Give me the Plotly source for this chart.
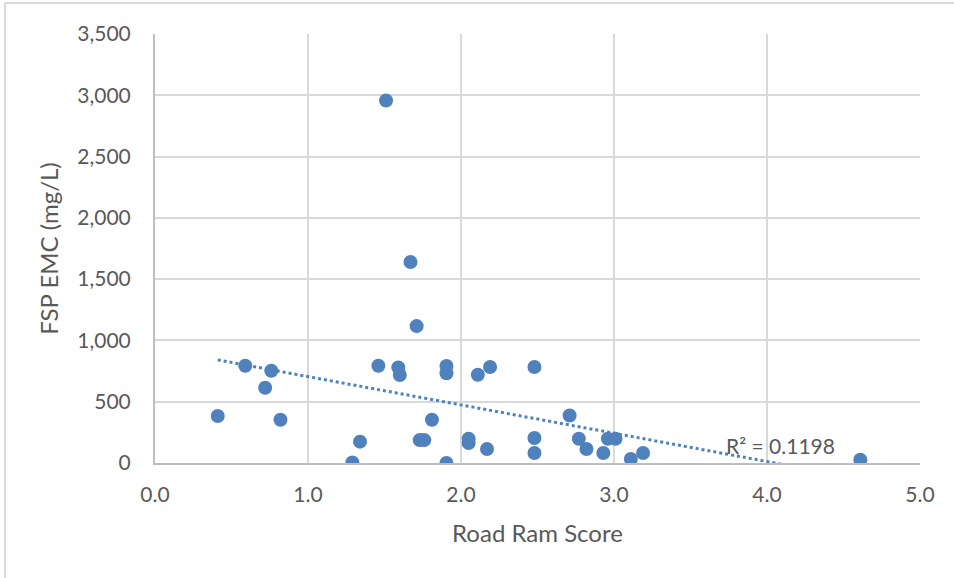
import numpy as np
import plotly.graph_objects as go

road_ram_score = [0.41, 0.59, 0.72, 0.76, 0.82, 1.29, 1.34, 1.46, 1.51, 1.59, 1.60, 1.67,
                  1.71, 1.73, 1.76, 1.81, 1.905, 1.905, 1.905, 2.05, 2.05, 2.11, 2.17, 2.19,
                  2.48, 2.48, 2.48, 2.71, 2.77, 2.82, 2.93, 2.96, 3.01, 3.11, 3.19, 4.61]
fsp_emc = [383, 794, 614, 753, 353, 5, 174, 794, 2958, 780, 718, 1640,
           1117, 187, 187, 353, 792, 732, 0, 198, 163, 720, 114, 783,
           783, 204, 82, 388, 198, 114, 82, 198, 198, 33, 82, 27]

# Linear trendline (Excel trendline)
trend_slope = -231.0
trend_intercept = 936.0
r2_label = "R\u00b2 = 0.1198"

x = np.array(road_ram_score)
tx = np.array([x.min(), x.max()])
ty = trend_slope * tx + trend_intercept

BLUE = "#4F81BD"
GRID = "#D9D9D9"
AXIS = "#BFBFBF"
TXT = "#595959"
FONT = "Lato, Liberation Sans, sans-serif"

fig = go.Figure()
fig.add_trace(go.Scatter(x=tx, y=ty, mode="lines",
                         line=dict(color=BLUE, width=3, dash="dot"),
                         hoverinfo="skip", showlegend=False))
fig.add_trace(go.Scatter(x=road_ram_score, y=fsp_emc, mode="markers",
                         marker=dict(color=BLUE, size=14), showlegend=False))

fig.add_annotation(x=4.085, y=141, text=r2_label, showarrow=False,
                   font=dict(family=FONT, size=21, color=TXT))

fig.add_shape(type="line", xref="paper", yref="paper", x0=-0.196, x1=-0.196, y0=-0.3, y1=1.072,
              line=dict(color=GRID, width=2))
fig.add_shape(type="line", xref="paper", yref="paper", x0=-0.196, x1=1.1, y0=1.072, y1=1.072,
              line=dict(color=GRID, width=2))

fig.update_layout(
    width=954, height=578,
    margin=dict(l=155, r=34, t=34, b=115),
    paper_bgcolor="white", plot_bgcolor="white",
    font=dict(family=FONT, size=21, color=TXT),
    xaxis=dict(range=[0, 5], dtick=1, tickformat=".1f", showgrid=True, gridcolor=GRID,
               gridwidth=2, zeroline=False, showline=True, linecolor=AXIS, linewidth=2,
               ticks="", ticklabelstandoff=12,
               title=dict(text="Road Ram Score", font=dict(size=24, color=TXT), standoff=20)),
    yaxis=dict(range=[0, 3500], dtick=500, tickformat=",d", showgrid=True, gridcolor=GRID,
               gridwidth=2, zeroline=False, showline=True, linecolor=AXIS, linewidth=2,
               ticks="", ticklabelstandoff=18,
               title=dict(text="FSP EMC (mg/L)", font=dict(size=24, color=TXT), standoff=12)),
)

fig.write_html("out.html")
